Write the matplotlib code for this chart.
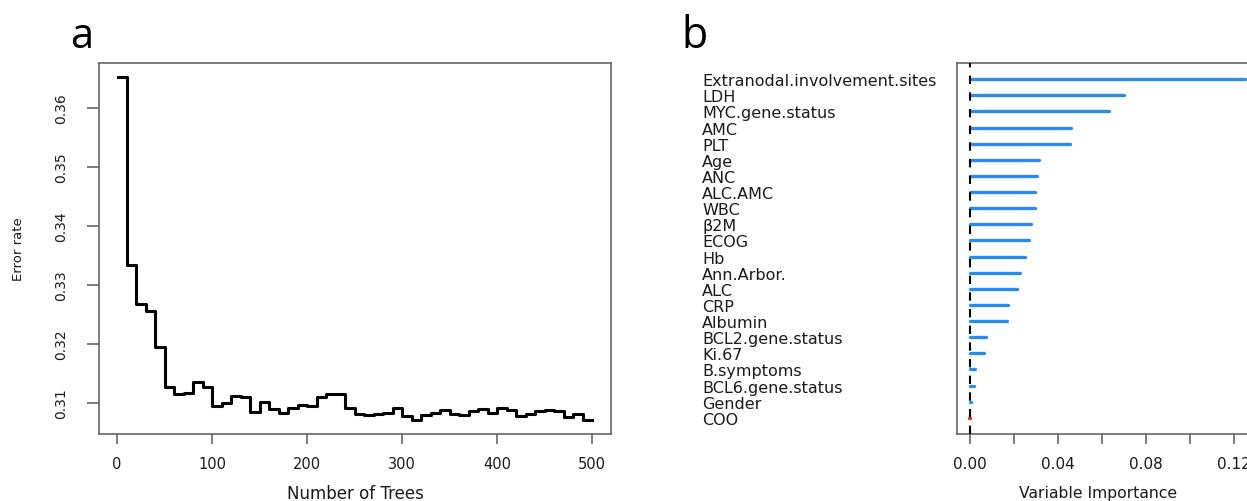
import matplotlib
matplotlib.use("Agg")
import matplotlib.pyplot as plt
import numpy as np

# ---------------- data ----------------
trees = [1, 10, 20, 30, 40, 50, 60, 70, 80, 90, 100, 110, 120, 130, 140, 150,
         160, 170, 180, 190, 200, 210, 220, 230, 240, 250, 260, 270, 280, 290,
         300, 310, 320, 330, 340, 350, 360, 370, 380, 390, 400, 410, 420, 430,
         440, 450, 460, 470, 480, 490, 500]
error_rate = [0.3653, 0.3333, 0.3268, 0.3256, 0.3195, 0.3126, 0.3114, 0.3116,
              0.3135, 0.3126, 0.3094, 0.3100, 0.3111, 0.3110, 0.3084, 0.3101,
              0.3090, 0.3083, 0.3091, 0.3097, 0.3095, 0.3110, 0.3115, 0.3114,
              0.3091, 0.3081, 0.3080, 0.3081, 0.3083, 0.3091, 0.3078, 0.3070,
              0.3080, 0.3082, 0.3087, 0.3081, 0.3080, 0.3086, 0.3090, 0.3083,
              0.3091, 0.3087, 0.3078, 0.3081, 0.3086, 0.3087, 0.3086, 0.3076,
              0.3081, 0.3070, 0.3070]
a_xticks = [0, 100, 200, 300, 400, 500]
a_yticks = [0.31, 0.32, 0.33, 0.34, 0.35, 0.36]
a_yticklabels = ["0.31", "0.32", "0.33", "0.34", "0.35", "0.36"]

variables = ["Extranodal.involvement.sites", "LDH", "MYC.gene.status", "AMC",
             "PLT", "Age", "ANC", "ALC.AMC", "WBC", "β2M", "ECOG", "Hb",
             "Ann.Arbor.", "ALC", "CRP", "Albumin", "BCL2.gene.status", "Ki.67",
             "B.symptoms", "BCL6.gene.status", "Gender", "COO"]
importance = [0.1250, 0.0700, 0.0632, 0.0461, 0.0453, 0.0314, 0.0303, 0.0297,
              0.0295, 0.0277, 0.0270, 0.0250, 0.0227, 0.0212, 0.0173, 0.0168,
              0.0071, 0.0062, 0.0023, 0.0020, 0.0006, -0.0005]
b_xticks = [0.00, 0.02, 0.04, 0.06, 0.08, 0.10, 0.12]
b_xticklabels = ["0.00", "", "0.04", "", "0.08", "", "0.12"]

# ---------------- figure ----------------
W, H = 1247, 502
fig = plt.figure(figsize=(W / 100, H / 100), dpi=100)
plt.rcParams['font.family'] = ['DejaVu Sans']


def rect(l, t, r, b):
    return [l / W, 1 - b / H, (r - l) / W, (b - t) / H]


spine_col = "#666666"
text_col = "#1a1a1a"

# ---------------- panel a ----------------
axa = fig.add_axes(rect(99, 64, 611, 435))
axa.step(trees, error_rate, where="post", color="black", lw=2.2)
axa.set_xlim(-19, 520)
axa.set_ylim(0.3047, 0.3676)
axa.set_xticks(a_xticks)
axa.set_xticklabels([str(t) for t in a_xticks])
axa.set_yticks(a_yticks)
axa.set_yticklabels(a_yticklabels, rotation=90, va="center")
for s in axa.spines.values():
    s.set_color(spine_col)
    s.set_linewidth(1.2)
axa.tick_params(axis="x", length=7.5, width=1.2, color=spine_col,
                labelsize=10.5, pad=8, labelcolor=text_col)
axa.tick_params(axis="y", length=9, width=1.2, color=spine_col,
                labelsize=10, pad=13, labelcolor=text_col)
axa.set_xlabel("Number of Trees", fontsize=12, color=text_col, va="top")
axa.xaxis.set_label_coords(0.5, (435 - 485) / 371)
axa.set_ylabel("Error rate", fontsize=9.5, color=text_col)
axa.yaxis.set_label_coords((25 - 99) / 512, 0.5)

# ---------------- panel b ----------------
axb = fig.add_axes(rect(957, 64, 1256, 435))
rows = np.arange(len(variables), 0, -1)
cols = ["#2b8ce6" if v >= 0 else "#e03030" for v in importance]
lc = axb.hlines(rows, 0, importance, colors=cols, lw=2.4)
lc.set_capstyle("round")
axb.axvline(0, color="black", lw=1.5, ls=(0, (4, 4)), zorder=3)
axb.set_xlim(-0.0059, 0.130)
axb.set_ylim(0, 23)
axb.set_xticks(b_xticks)
axb.set_xticklabels(b_xticklabels)
axb.set_yticks(rows)
axb.set_yticklabels(variables, ha="left")
for s in axb.spines.values():
    s.set_color(spine_col)
    s.set_linewidth(1.2)
axb.tick_params(axis="x", length=7.5, width=1.2, color=spine_col,
                labelsize=11, pad=8, labelcolor=text_col)
axb.tick_params(axis="y", length=0, labelsize=11.5,
                pad=(957 - 702) * 0.72, labelcolor=text_col)
axb.set_xlabel("Variable Importance", fontsize=11.25, color=text_col, va="top")
axb.xaxis.set_label_coords((1098 - 957) / 299, (435 - 486) / 371)

# ---------------- panel letters ----------------
fig.text(70 / W, 1 - 48 / H, "a", fontsize=30, family="Open Sans",
         ha="left", va="baseline", color="black")
fig.text(681 / W, 1 - 48 / H, "b", fontsize=31, family="Open Sans",
         ha="left", va="baseline", color="black")

fig.savefig("out.png", dpi=100)
